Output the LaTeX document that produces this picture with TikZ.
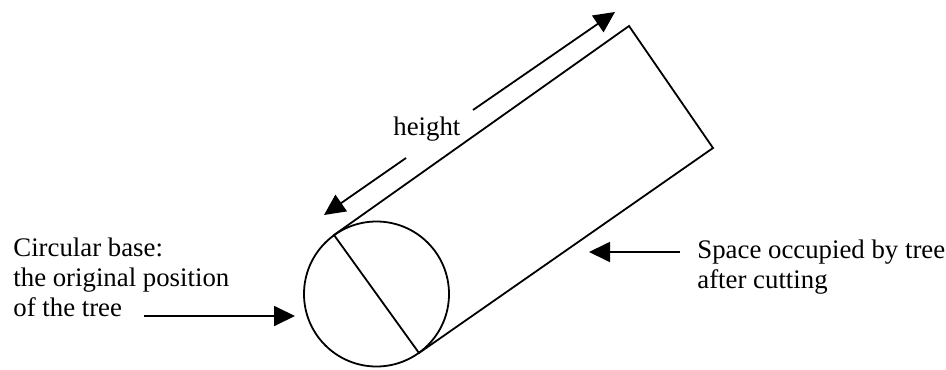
\documentclass[tikz,border=0pt]{standalone}
\usepackage{fontspec}
\setmainfont{Liberation Serif}
\usetikzlibrary{arrows.meta,positioning,calc}

\begin{document}
\begin{tikzpicture}[
  x=0.5pt, y=-0.5pt,
  every node/.style={font=\fontsize{13.4}{15}\selectfont},
  outline/.style={line width=0.9pt, black},
  label/.style={inner sep=0pt, align=left, anchor=base west},
  arrow/.style={-{Triangle[length=10.5pt, width=10pt]}, line width=0.9pt, black},
]
\useasboundingbox (0,0) rectangle (946,369);

%% ── Corners of the fallen trunk ───────────────────────────────────────────
\coordinate (A) at (334,235);
\coordinate (B) at (629,26);
\coordinate (C) at (713,148);
\coordinate (D) at (419,353);
\coordinate (O) at ($(A)!0.5!(D)$);

%% ── Base circle and occupied space ────────────────────────────────────────
\draw[outline] (O) circle[radius=72.5];
\draw[outline] (A) -- (B) -- (C) -- (D) -- cycle;

%% ── Labels (anchored at the baseline of the last line) ────────────────────
\node[label] (base)  at (13,316)  {Circular base:\\the original position\\of the tree};
\node[label] (space) at (697,288) {Space occupied by tree\\after cutting};
\node[label] (hgt)   at (393,135) {height};

%% ── Arrow ends ────────────────────────────────────────────────────────────
\coordinate (baseTail)  at (144,316);
\coordinate (baseTip)   at (295,316);
\coordinate (spaceTail) at (680,252);
\coordinate (spaceTip)  at (589,252);
\coordinate (upTail)    at (473,110);
\coordinate (upTip)     at (615,12);
\coordinate (downTail)  at (406,158);
\coordinate (downTip)   at (324,215);

%% ── Arrows ────────────────────────────────────────────────────────────────
\draw[arrow] (baseTail) -- (baseTip);
\draw[arrow] (spaceTail) -- (spaceTip);
\draw[arrow] (upTail) -- (upTip);
\draw[arrow] (downTail) -- (downTip);

\end{tikzpicture}
\end{document}
